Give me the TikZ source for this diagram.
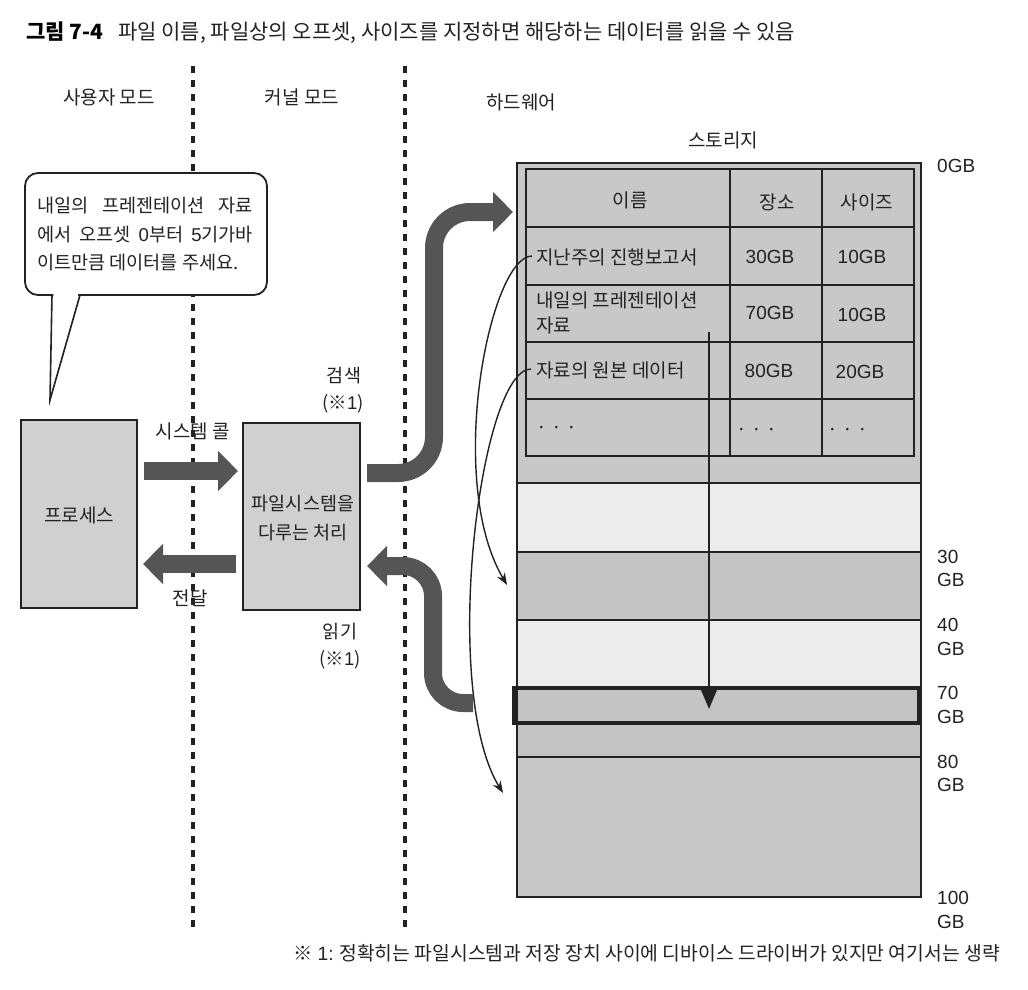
\documentclass[tikz,border=0pt]{standalone}
\usepackage{fontspec}
\setmainfont{Noto Sans CJK KR}
\newfontfamily\lat{Liberation Sans}
\usetikzlibrary{arrows.meta}
\definecolor{boxgray}{HTML}{D0D0D0}
\definecolor{metagray}{HTML}{C8C8C8}
\definecolor{lightgray2}{HTML}{ECECEC}
\definecolor{stripegray}{HTML}{C4C4C4}
\definecolor{arrowgray}{HTML}{555555}
\definecolor{ink}{HTML}{222222}
\tikzset{
  lbl/.style={inner sep=0pt, text=ink, font=\fontsize{19}{23}\selectfont},
  slbl/.style={inner sep=0pt, text=ink, font=\fontsize{18.5}{22}\selectfont},
  blbl/.style={inner sep=0pt, text=ink, font=\fontsize{18.6}{22}\selectfont},
  lblw/.style={lbl, anchor=west},
  gb/.style={inner sep=0pt, anchor=west, text=ink, font=\lat\fontsize{19}{22}\selectfont},
  gbc/.style={inner sep=0pt, text=ink, font=\lat\fontsize{19}{22}\selectfont},
  sepline/.style={draw=ink, line width=3.2pt, dash pattern=on 7pt off 7pt},
  procbox/.style={draw=ink, fill=boxgray, line width=1.6pt},
  blkarrow/.style={draw=arrowgray, line width=18pt, -{Triangle[length=20pt,width=39pt]}},
  thinarrow/.style={draw=ink, line width=1.4pt, -{Stealth[length=12pt,width=9pt]}},
  gridline/.style={draw=ink, line width=1.5pt},
}
\begin{document}
\begin{tikzpicture}[x=1pt,y=-1pt]
\useasboundingbox (0,0) rectangle (1028,990);

% title
\node[inner sep=0pt, anchor=west, font=\fontsize{21}{25}\selectfont\bfseries] (t1) at (26,32) {그림 7-4};
\node[inner sep=0pt, anchor=west, text=ink, font=\fontsize{21}{25}\selectfont] (t2) at (118,33) {파일 이름, 파일상의 오프셋, 사이즈를 지정하면 해당하는 데이터를 읽을 수 있음};

% separators
\coordinate (d1a) at (193,66); \coordinate (d1b) at (193,928);
\coordinate (d2a) at (405,66); \coordinate (d2b) at (405,928);
\draw[sepline] (d1a) -- (d1b);
\draw[sepline] (d2a) -- (d2b);

% mode labels
\node[lbl] (um) at (109,97) {사용자 모드};
\node[lbl] (km) at (302,97) {커널 모드};
\node[lbl] (hw) at (521,102) {하드웨어};
\node[lbl] (st) at (723,140) {스토리지};

% speech bubble
\draw[draw=ink, fill=white, line width=1.8pt, rounded corners=13pt] (25,173) rectangle (267,295);
\fill[white] (53.5,293) -- (78.5,293) -- (50,398) -- cycle;
\coordinate (tl) at (52,295); \coordinate (tip) at (50,400); \coordinate (tr) at (80,295);
\draw[draw=ink, line width=1.6pt, line join=miter] (tl) -- (tip) -- (tr);
\node[blbl] (b1) at (145,206) {\makebox[216pt][s]{내일의 프레젠테이션 자료}};
\node[blbl] (b2) at (145,235) {\makebox[216pt][s]{에서 오프셋 {\lat 0}부터 {\lat 5}기가바}};
\node[blbl] (b3) at (145,263) {\makebox[216pt][l]{이트만큼 데이터를 주세요.}};

% process boxes
\node[procbox, minimum width=116pt, minimum height=188pt, inner sep=0pt] (proc) at (79,514) {};
\node[lbl] (proct) at (79,515) {프로세스};
\node[procbox, minimum width=117pt, minimum height=187pt, inner sep=0pt] (fs) at (301.5,516.5) {};
\node[slbl] (fst1) at (303,504) {파일시스템을};
\node[slbl] (fst2) at (303,533) {다루는 처리};

% straight block arrows
\coordinate (sa) at (144,471); \coordinate (sb) at (238,471);
\draw[blkarrow] (sa) -- (sb);
\coordinate (ra) at (236,564); \coordinate (rb) at (143,564);
\draw[blkarrow] (ra) -- (rb);
\node[lbl] (sc) at (193,431) {시스템 콜};
\node[lbl] (dl) at (190,598) {전달};
\node[slbl] (se1) at (344,376) {검색};
\node[slbl] (se2) at (343,404) {(※{\lat 1})};
\node[slbl] (rd1) at (340,632) {읽기};
\node[slbl] (rd2) at (340,660) {(※{\lat 1})};

% storage background bands
\fill[metagray] (517,163) rectangle (921,483);
\fill[lightgray2] (517,483) rectangle (921,552);
\fill[stripegray] (517,552) rectangle (921,620);
\fill[lightgray2] (517,620) rectangle (921,688);
\fill[stripegray] (517,688) rectangle (921,757);
\fill[metagray] (517,757) rectangle (921,897);
\draw[gridline] (517,483) -- (921,483);
\draw[gridline] (517,552) -- (921,552);
\draw[gridline] (517,620) -- (921,620);
\draw[gridline] (517,757) -- (921,757);
\node[draw=ink, line width=2pt, minimum width=404pt, minimum height=734pt, inner sep=0pt] (stor) at (719,530) {};

% table
\draw[gridline, line width=1.8pt] (526,169) rectangle (914,456);
\draw[gridline] (526,227) -- (914,227);
\draw[gridline] (526,285) -- (914,285);
\draw[gridline] (526,342) -- (914,342);
\draw[gridline] (526,399) -- (914,399);
\draw[gridline] (730,169) -- (730,456);
\draw[gridline] (822,169) -- (822,456);
\node[lbl] (h1) at (630,200) {이름};
\node[lbl] (h2) at (777,202) {장소};
\node[lbl] (h3) at (867,202) {사이즈};
\node[lblw] (r1) at (536,257) {지난주의 진행보고서};
\node[gbc] (r1b) at (770,257) {30GB};
\node[gbc] (r1c) at (862,257) {10GB};
\node[lblw] (r2) at (536,300) {내일의 프레젠테이션};
\node[lblw] (r2x) at (536,325) {자료};
\node[gbc] (r2b) at (770,313) {70GB};
\node[gbc] (r2c) at (862,315) {10GB};
\node[lblw] (r3) at (536,370) {자료의 원본 데이터};
\node[gbc] (r3b) at (769,371) {80GB};
\node[gbc] (r3c) at (860,372) {20GB};
\node[lbl] (r4a) at (557,430) {· · ·};
\node[lbl] (r4b) at (757,432) {· · ·};
\node[lbl] (r4c) at (848,432) {· · ·};

% read region (70GB..75GB)
\node[draw=ink, line width=3.2pt, minimum width=405pt, minimum height=35pt, inner sep=0pt] (rr) at (716.5,705.5) {};

% vertical lookup arrow
\coordinate (va) at (709,332); \coordinate (vb) at (709,709);
\draw[draw=ink, line width=2.8pt, -{Triangle[length=21pt,width=17pt]}] (va) -- (vb);

% storage offset labels
\node[gb] (g0) at (937,166) {0GB};
\node[gb] (g30) at (937,557) {30};   \node[gb] (g30b) at (937,580) {GB};
\node[gb] (g40) at (937,625) {40};   \node[gb] (g40b) at (937,649) {GB};
\node[gb] (g70) at (937,693) {70};   \node[gb] (g70b) at (937,717) {GB};
\node[gb] (g80) at (937,762) {80};   \node[gb] (g80b) at (937,785) {GB};
\node[gb] (g100) at (937,898) {100}; \node[gb] (g100b) at (937,922) {GB};

% thin curved arrows from table entries to data
\coordinate (c1s) at (532,256); \coordinate (c1e) at (507,585);
\draw[thinarrow] (c1s) .. controls (490,256) and (445,480) .. (c1e);
\coordinate (c2s) at (531,369); \coordinate (c2e) at (503,793);
\draw[thinarrow] (c2s) .. controls (480,369) and (440,690) .. (c2e);

% curved block arrows
\coordinate (ka) at (367,473); \coordinate (kb) at (434,473); \coordinate (kc) at (434,212); \coordinate (kd) at (513,212);
\draw[blkarrow, rounded corners=36pt] (ka) -- (kb) -- (kc) -- (kd);
\coordinate (la) at (473,703); \coordinate (lb) at (433,703); \coordinate (lc) at (433,566); \coordinate (ld) at (367,566);
\draw[blkarrow, rounded corners=30pt] (la) -- (lb) -- (lc) -- (ld);

% footnote
\node[inner sep=0pt, anchor=east, text=ink, font=\fontsize{19.3}{23}\selectfont] (fn) at (1000,953) {※ {\lat 1:} 정확히는 파일시스템과 저장 장치 사이에 디바이스 드라이버가 있지만 여기서는 생략};
\end{tikzpicture}
\end{document}
